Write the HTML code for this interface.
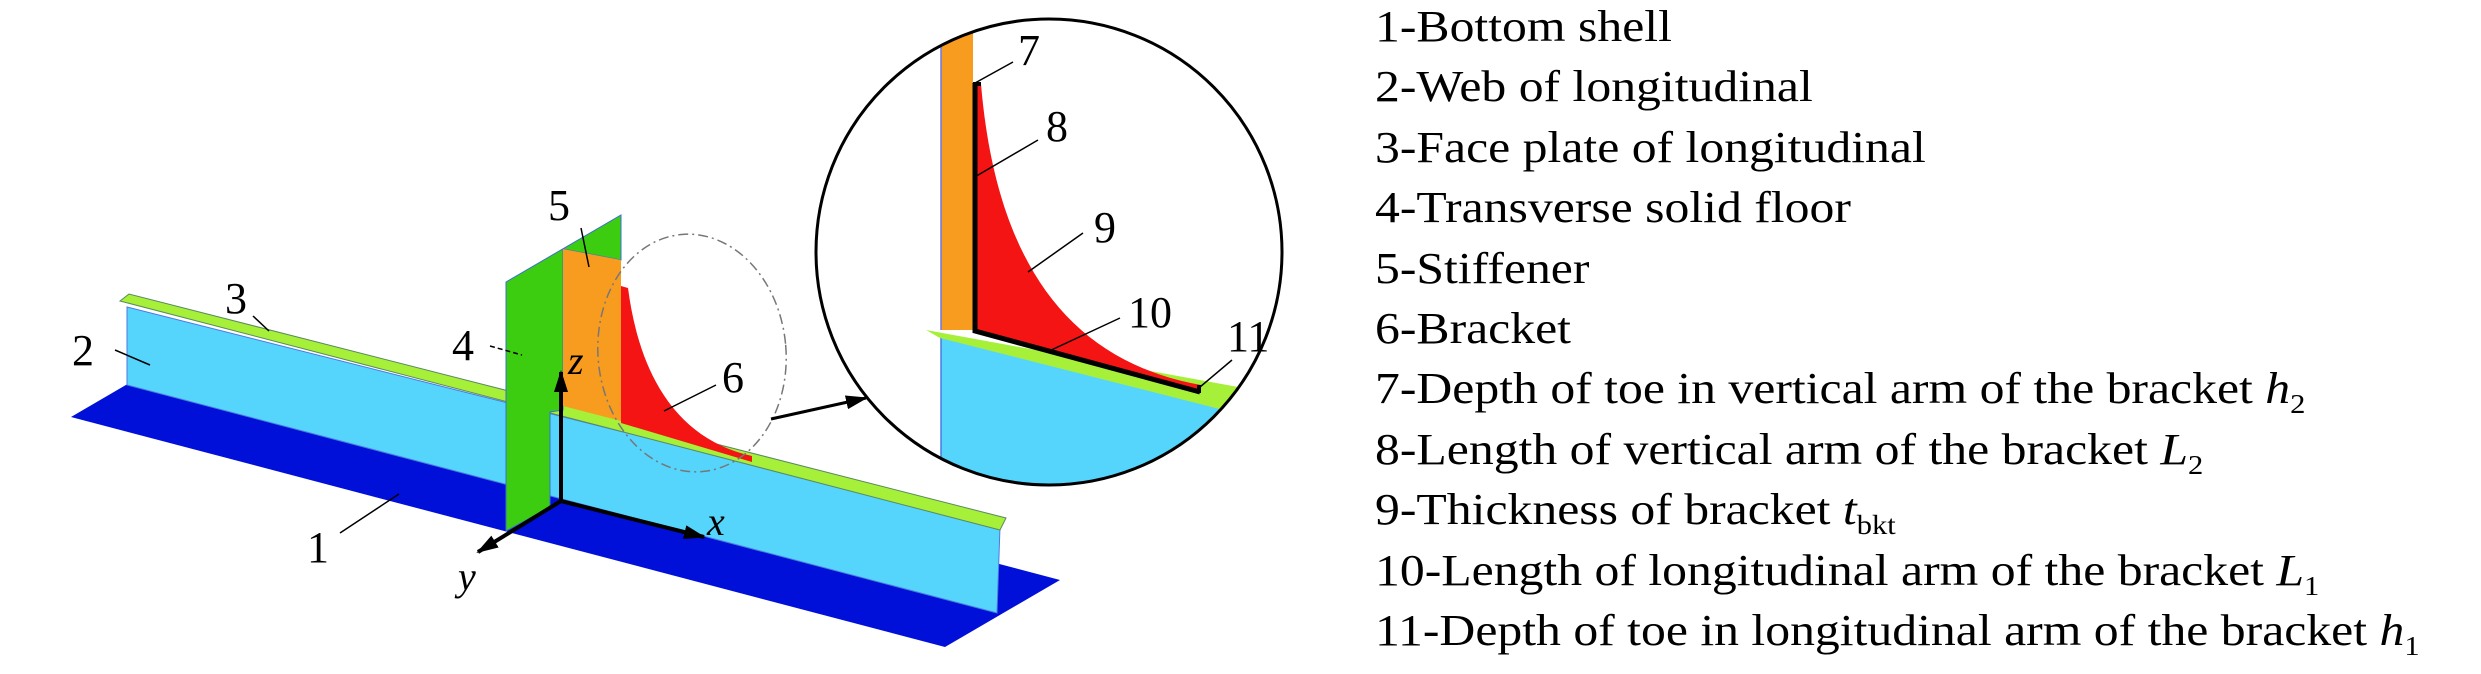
<!DOCTYPE html>
<html><head><meta charset="utf-8"><style>
html,body{margin:0;padding:0;background:#fff;}
svg{display:block}
text{font-family:"Liberation Serif",serif;fill:#000}
</style></head><body>
<svg width="2481" height="674" viewBox="0 0 2481 674" xmlns="http://www.w3.org/2000/svg">
<defs>
<marker id="ah2" markerWidth="22" markerHeight="14" refX="20" refY="7" orient="auto" markerUnits="userSpaceOnUse"><path d="M0,0 L22,7 L0,14 Z" fill="#000"/></marker>
<clipPath id="cc"><circle cx="1049" cy="252" r="233"/></clipPath>
</defs>
<polygon points="71,417 186,350 1060,580 945,647" fill="#0010d8"/>
<polygon points="127,307 1000,527 997,613 127,385" fill="#55d4fc" stroke="#4a7ae0" stroke-width="1"/>
<polygon points="120,301 129,294 1006,518 1000,530" fill="#a6f03a" stroke="#5a8a60" stroke-width="1"/>
<polygon points="506,282 621,215 621,260 563,249 563,410 550,412 550,507 506,531" fill="#3ccc10" stroke="#3a70d0" stroke-width="1"/>
<polygon points="563,249 621,260 621,421 563,406" fill="#f89c20"/>
<path d="M621,286 L628,288 C640,380 680,440 752,456 L752,462 L621,423 Z" fill="#f41414"/>
<ellipse cx="692" cy="353" rx="94" ry="119" fill="none" stroke="#777" stroke-width="1.5" stroke-dasharray="10,4,2,4" transform="rotate(-5 692 353)"/>
<line x1="771" y1="419" x2="866" y2="398" stroke="#000" stroke-width="3" marker-end="url(#ah2)"/>
<line x1="561" y1="501" x2="561" y2="372" stroke="#000" stroke-width="4" marker-end="url(#ah2)"/>
<line x1="561" y1="501" x2="704" y2="537" stroke="#000" stroke-width="4" marker-end="url(#ah2)"/>
<line x1="561" y1="501" x2="478" y2="552" stroke="#000" stroke-width="4" marker-end="url(#ah2)"/>
<text x="568" y="374" font-size="40" font-style="italic">z</text>
<text x="707" y="535" font-size="40" font-style="italic">x</text>
<text x="458" y="590" font-size="40" font-style="italic">y</text>
<g font-size="44">
<text x="72" y="365">2</text>
<text x="225" y="313">3</text>
<text x="452" y="360">4</text>
<text x="548" y="220">5</text>
<text x="722" y="392">6</text>
<text x="307" y="562">1</text>
</g>
<g stroke="#000" stroke-width="1.5">
<line x1="115" y1="350" x2="150" y2="365"/>
<line x1="253" y1="316" x2="269" y2="331"/>
<line x1="490" y1="346" x2="522" y2="355" stroke-dasharray="5,3"/>
<line x1="581" y1="228" x2="589" y2="267"/>
<line x1="716" y1="385" x2="664" y2="411"/>
<line x1="340" y1="533" x2="399" y2="494"/>
</g>
<g clip-path="url(#cc)">
<polygon points="941,337 1300,420 1300,700 941,700" fill="#55d4fc"/>
<line x1="941" y1="337" x2="941" y2="700" stroke="#4a7ae0" stroke-width="1.5"/>
<rect x="941" y="20" width="32" height="310" fill="#f89c20"/>
<line x1="941" y1="20" x2="941" y2="330" stroke="#6a7ae0" stroke-width="1.5"/>
<polygon points="926,330 1260,391 1255,418 940,338" fill="#a6f03a"/>
<path d="M973,83 L981,84 C995,250 1060,360 1201,385 L1200,393 L973,332 Z" fill="#f41414"/>
<polyline points="975,83 975,331 1200,392" fill="none" stroke="#000" stroke-width="5"/>
<line x1="973" y1="84" x2="981" y2="84" stroke="#000" stroke-width="4"/>
<line x1="1199" y1="385" x2="1199" y2="393" stroke="#000" stroke-width="4"/>
</g>
<circle cx="1049" cy="252" r="233" fill="none" stroke="#000" stroke-width="3"/>
<g font-size="44">
<text x="1018" y="65">7</text>
<text x="1046" y="141">8</text>
<text x="1094" y="242">9</text>
<text x="1128" y="327">10</text>
<text x="1227" y="351">11</text>
</g>
<g stroke="#000" stroke-width="1.5">
<line x1="1013" y1="62" x2="975" y2="83"/>
<line x1="1038" y1="140" x2="973" y2="178"/>
<line x1="1083" y1="233" x2="1028" y2="272"/>
<line x1="1120" y1="318" x2="1047" y2="352"/>
<line x1="1232" y1="360" x2="1200" y2="387"/>
</g>
<g font-size="44" transform="translate(1375,0) scale(1.13,1)">
<text x="0" y="41">1-Bottom shell</text>
<text x="0" y="101">2-Web of longitudinal</text>
<text x="0" y="162">3-Face plate of longitudinal</text>
<text x="0" y="222">4-Transverse solid floor</text>
<text x="0" y="283">5-Stiffener</text>
<text x="0" y="343">6-Bracket</text>
<text x="0" y="403">7-Depth of toe in vertical arm of the bracket <tspan font-style="italic">h</tspan><tspan font-size="27" dy="10">2</tspan></text>
<text x="0" y="464">8-Length of vertical arm of the bracket <tspan font-style="italic">L</tspan><tspan font-size="27" dy="10">2</tspan></text>
<text x="0" y="524">9-Thickness of bracket <tspan font-style="italic">t</tspan><tspan font-size="27" dy="10">bkt</tspan></text>
<text x="0" y="585">10-Length of longitudinal arm of the bracket <tspan font-style="italic">L</tspan><tspan font-size="27" dy="10">1</tspan></text>
<text x="0" y="645">11-Depth of toe in longitudinal arm of the bracket <tspan font-style="italic">h</tspan><tspan font-size="27" dy="10">1</tspan></text>
</g>
</svg>
</body></html>
